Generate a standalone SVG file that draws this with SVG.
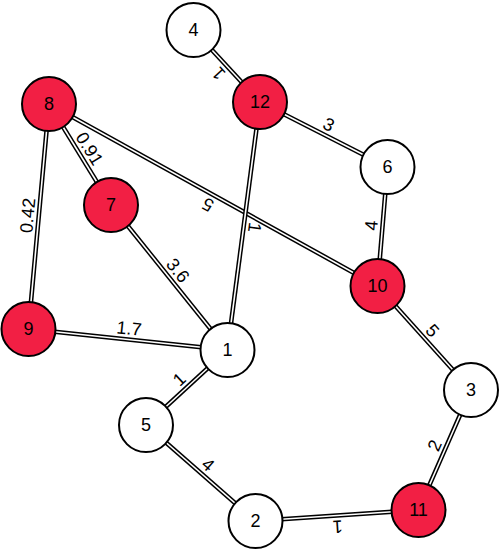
<svg xmlns="http://www.w3.org/2000/svg" width="499" height="550" viewBox="0 0 499 550">
<style>
.o{stroke:#000;stroke-width:4.6;fill:none}
.i{stroke:#fff;stroke-width:1.6;fill:none}
.n{stroke:#000;stroke-width:2;fill:#fff}
.r{fill:#f21f44}
text{font-family:"Liberation Sans",Arial,sans-serif;font-size:18px;fill:#000}
.nl{text-anchor:middle;dominant-baseline:central}
.el{text-anchor:middle}
</style>
<defs>
<g id="e-defs"/>
</defs>
<g id="connectors">
<g id="e12-4"><line class="o" x1="260" y1="102" x2="193.5" y2="30"/><line class="i" x1="260" y1="102" x2="193.5" y2="30"/><text class="el" transform="translate(226.75,66) rotate(-132.7)" y="-5">1</text></g>
<g id="e12-6"><line class="o" x1="260" y1="102" x2="387.5" y2="167"/><line class="i" x1="260" y1="102" x2="387.5" y2="167"/><text class="el" transform="translate(323.75,134.5) rotate(27)" y="-5">3</text></g>
<g id="e10-8"><line class="o" x1="377.5" y1="286" x2="49" y2="104"/><line class="i" x1="377.5" y1="286" x2="49" y2="104"/><text class="el" transform="translate(213.25,195) rotate(-151)" y="-5">5</text></g>
<g id="e12-1"><line class="o" x1="260" y1="102" x2="227.5" y2="350"/><line class="i" x1="260" y1="102" x2="227.5" y2="350"/><text class="el" transform="translate(243.75,226) rotate(97.5)" y="-5">1</text></g>
<g id="e8-7"><line class="o" x1="49" y1="104" x2="111" y2="205"/><line class="i" x1="49" y1="104" x2="111" y2="205"/><text class="el" transform="translate(80,154.5) rotate(58.45)" y="-5">0.91</text></g>
<g id="e9-8"><line class="o" x1="28.5" y1="329" x2="49" y2="104"/><line class="i" x1="28.5" y1="329" x2="49" y2="104"/><text class="el" transform="translate(38.75,216.5) rotate(-84.8)" y="-5">0.42</text></g>
<g id="e7-1"><line class="o" x1="111" y1="205" x2="227.5" y2="350"/><line class="i" x1="111" y1="205" x2="227.5" y2="350"/><text class="el" transform="translate(169.25,277.5) rotate(51.2)" y="-5">3.6</text></g>
<g id="e9-1"><line class="o" x1="28.5" y1="329" x2="227.5" y2="350"/><line class="i" x1="28.5" y1="329" x2="227.5" y2="350"/><text class="el" transform="translate(128,339.5) rotate(6)" y="-5">1.7</text></g>
<g id="e10-6"><line class="o" x1="377.5" y1="286" x2="387.5" y2="167"/><line class="i" x1="377.5" y1="286" x2="387.5" y2="167"/><text class="el" transform="translate(382.5,226.5) rotate(-85.2)" y="-5">4</text></g>
<g id="e10-3"><line class="o" x1="377.5" y1="286" x2="471" y2="390"/><line class="i" x1="377.5" y1="286" x2="471" y2="390"/><text class="el" transform="translate(424.25,338) rotate(48)" y="-5">5</text></g>
<g id="e5-1"><line class="o" x1="146" y1="425" x2="227.5" y2="350"/><line class="i" x1="146" y1="425" x2="227.5" y2="350"/><text class="el" transform="translate(186.75,387.5) rotate(-42.6)" y="-5">1</text></g>
<g id="e5-2"><line class="o" x1="146" y1="425" x2="255.5" y2="521"/><line class="i" x1="146" y1="425" x2="255.5" y2="521"/><text class="el" transform="translate(200.75,473) rotate(41.2)" y="-5">4</text></g>
<g id="e11-3"><line class="o" x1="418.5" y1="510" x2="471" y2="390"/><line class="i" x1="418.5" y1="510" x2="471" y2="390"/><text class="el" transform="translate(444.75,450) rotate(-66.4)" y="-5">2</text></g>
<g id="e11-2"><line class="o" x1="418.5" y1="510" x2="255.5" y2="521"/><line class="i" x1="418.5" y1="510" x2="255.5" y2="521"/><text class="el" transform="translate(337,515.5) rotate(176.1)" y="-5">1</text></g>
</g>
<g id="n1"><circle class="n" cx="227.5" cy="350" r="27"/><text class="nl" x="227.5" y="350">1</text></g>
<g id="n2"><circle class="n" cx="255.5" cy="521" r="27"/><text class="nl" x="255.5" y="521">2</text></g>
<g id="n3"><circle class="n" cx="471" cy="390" r="27"/><text class="nl" x="471" y="390">3</text></g>
<g id="n4"><circle class="n" cx="193.5" cy="30" r="27"/><text class="nl" x="193.5" y="30">4</text></g>
<g id="n5"><circle class="n" cx="146" cy="425" r="27"/><text class="nl" x="146" y="425">5</text></g>
<g id="n6"><circle class="n" cx="387.5" cy="167" r="27"/><text class="nl" x="387.5" y="167">6</text></g>
<g id="n7"><circle class="n r" cx="111" cy="205" r="27"/><text class="nl" x="111" y="205">7</text></g>
<g id="n8"><circle class="n r" cx="49" cy="104" r="27"/><text class="nl" x="49" y="104">8</text></g>
<g id="n9"><circle class="n r" cx="28.5" cy="329" r="27"/><text class="nl" x="28.5" y="329">9</text></g>
<g id="n10"><circle class="n r" cx="377.5" cy="286" r="27"/><text class="nl" x="377.5" y="286">10</text></g>
<g id="n11"><circle class="n r" cx="418.5" cy="510" r="27"/><text class="nl" x="418.5" y="510">11</text></g>
<g id="n12"><circle class="n r" cx="260" cy="102" r="27"/><text class="nl" x="260" y="102">12</text></g>
</svg>
